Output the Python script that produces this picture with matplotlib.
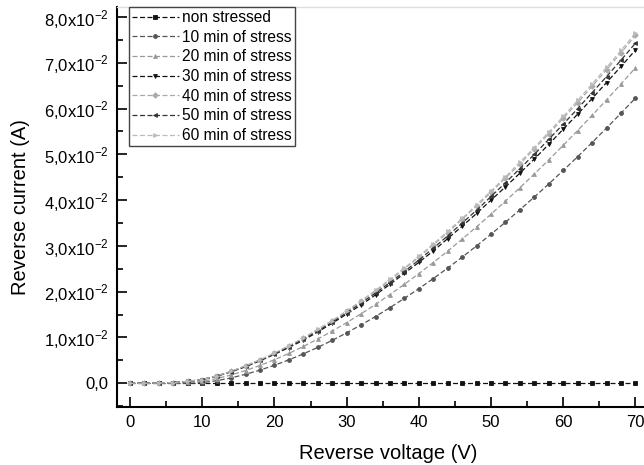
import numpy as np
import matplotlib.pyplot as plt
from matplotlib.ticker import MultipleLocator, FuncFormatter

plt.rcParams['font.family'] = ['Liberation Sans', 'DejaVu Sans']

# reverse voltage (V)
voltage = np.arange(0, 71, 2)

# reverse current, in units of 1e-2 A
i_non = [0.0] * 36
i_10 = [0, 0, 0, 0, 0, 0.014, 0.055, 0.116, 0.194, 0.286, 0.392, 0.510, 0.641, 0.783,
        0.936, 1.100, 1.274, 1.457, 1.651, 1.854, 2.066, 2.286, 2.516, 2.754, 3.001,
        3.256, 3.518, 3.790, 4.069, 4.354, 4.649, 4.950, 5.259, 5.576, 5.900, 6.230]
i_20 = [0, 0, 0, 0.005, 0.02, 0.040, 0.100, 0.180, 0.276, 0.388, 0.513, 0.651, 0.803,
        0.965, 1.138, 1.323, 1.517, 1.722, 1.937, 2.161, 2.394, 2.637, 2.888, 3.148,
        3.417, 3.694, 3.979, 4.272, 4.573, 4.881, 5.198, 5.521, 5.853, 6.191, 6.538, 6.890]
i_30 = [0, 0, 0.005, 0.015, 0.04, 0.08, 0.15, 0.25, 0.36, 0.49, 0.63, 0.78, 0.94, 1.12,
        1.31, 1.51, 1.71, 1.93, 2.16, 2.40, 2.64, 2.89, 3.16, 3.43, 3.71, 4.00, 4.29,
        4.59, 4.90, 5.22, 5.55, 5.88, 6.22, 6.57, 6.92, 7.28]
i_40 = [0, 0, 0.005, 0.015, 0.04, 0.08, 0.16, 0.26, 0.38, 0.51, 0.65, 0.81, 0.98, 1.17,
        1.36, 1.57, 1.79, 2.01, 2.25, 2.50, 2.75, 3.02, 3.29, 3.58, 3.87, 4.17, 4.48,
        4.79, 5.12, 5.45, 5.79, 6.13, 6.49, 6.85, 7.22, 7.60]
i_50 = [0, 0, 0.005, 0.015, 0.04, 0.08, 0.16, 0.25, 0.37, 0.50, 0.64, 0.80, 0.96, 1.14,
        1.33, 1.54, 1.75, 1.97, 2.20, 2.44, 2.69, 2.95, 3.22, 3.50, 3.78, 4.08, 4.38,
        4.69, 5.00, 5.33, 5.66, 6.00, 6.35, 6.70, 7.06, 7.43]
i_60 = [0, 0, 0.005, 0.015, 0.04, 0.08, 0.16, 0.26, 0.38, 0.51, 0.66, 0.82, 0.99, 1.18,
        1.37, 1.58, 1.80, 2.03, 2.27, 2.52, 2.77, 3.04, 3.32, 3.60, 3.90, 4.20, 4.51,
        4.83, 5.15, 5.49, 5.83, 6.18, 6.54, 6.90, 7.27, 7.65]

labels = ['non stressed', '10 min of stress', '20 min of stress', '30 min of stress',
          '40 min of stress', '50 min of stress', '60 min of stress']
series = [i_non, i_10, i_20, i_30, i_40, i_50, i_60]
markers = ['s', 'o', '^', 'v', 'D', '<', '>']
colors = ['#111111', '#555555', '#999999', '#111111', '#aaaaaa', '#333333', '#bbbbbb']

fig = plt.figure(figsize=(6.44, 4.65), dpi=100)
ax = fig.add_axes([117 / 644, 58 / 465, 543 / 644, 400 / 465])

for cur, lab, m, c in zip(series, labels, markers, colors):
    ax.plot(voltage, np.array(cur) * 1e-2, linestyle='--', dashes=(4, 2), lw=0.9,
            color=c, marker=m, markersize=2.8, markeredgewidth=0.6, label=lab)

ax.set_xlim(-1.8, 73.4)
ax.set_ylim(-0.0052, 0.0822)
ax.xaxis.set_major_locator(MultipleLocator(10))
ax.xaxis.set_minor_locator(MultipleLocator(5))
ax.yaxis.set_major_locator(MultipleLocator(0.01))
ax.yaxis.set_minor_locator(MultipleLocator(0.005))


def yfmt(v, pos):
    n = int(round(v * 100))
    if n == 0:
        return '0,0'
    return '%d,0x10$^{\\mathregular{-2}}$' % n


ax.yaxis.set_major_formatter(FuncFormatter(yfmt))
ax.tick_params(which='both', direction='in', width=1.2, labelsize=12)
ax.tick_params(which='major', length=7, pad=6)
ax.tick_params(which='minor', length=4)

ax.spines['left'].set_linewidth(1.5)
ax.spines['bottom'].set_linewidth(1.5)
ax.spines['right'].set_visible(False)
ax.spines['top'].set_color('#dddddd')
ax.spines['top'].set_linewidth(1)

ax.set_xlabel('Reverse voltage (V)', fontsize=14.5, labelpad=10)
ax.set_ylabel('Reverse current (A)', fontsize=14.5, labelpad=10)

leg = ax.legend(loc='upper left', bbox_to_anchor=(0.022, 1.0), borderaxespad=0,
                fontsize=11.2, handlelength=3.0, handletextpad=0.2, labelspacing=0.3,
                borderpad=0.2, fancybox=False, framealpha=1, edgecolor='#444444')
leg.get_frame().set_linewidth(1)

fig.savefig('out.png', dpi=100)
